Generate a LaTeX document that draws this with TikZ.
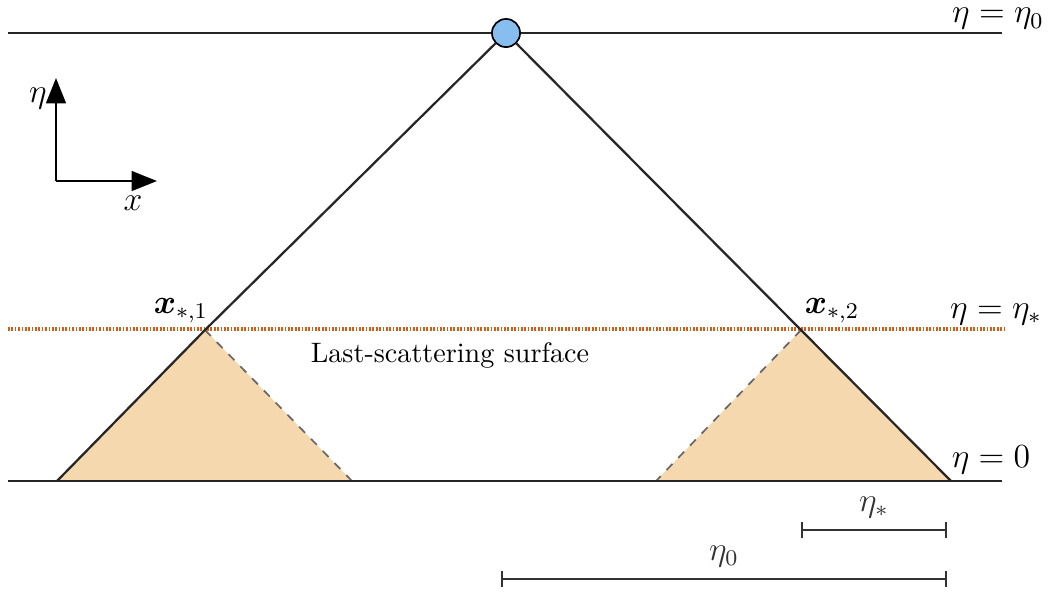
\documentclass[tikz,border=0pt]{standalone}
\usepackage{bm}
\usetikzlibrary{arrows.meta}

\definecolor{lsscol}{RGB}{205,95,25}
\definecolor{conefill}{RGB}{246,216,175}
\definecolor{obscol}{RGB}{135,190,240}

\begin{document}
\begin{tikzpicture}[
      x=0.0125cm, y=-0.0125cm,
      line/.style={line width=0.8pt, black!85},
      lss/.style={line width=1.7pt, lsscol, dash pattern=on 0.6pt off 0.6pt},
      cone/.style={fill=conefill},
      back/.style={gray!80!black, line width=0.6pt, dashed},
      lbl/.style={font=\large, inner sep=1pt},
      bar/.style={line width=0.6pt, black!80, {Bar[width=6pt]}-{Bar[width=6pt]}},
      axis/.style={line width=0.8pt, -{Triangle[length=9pt, width=7pt]}},
    ]
    \useasboundingbox (0,0) rectangle (1050,592);
    % points
    \coordinate (topL) at (8,33);
    \coordinate (topR) at (1002,33);
    \coordinate (botL) at (8,481);
    \coordinate (botR) at (1002,481);
    \coordinate (lssL) at (8,329);
    \coordinate (lssR) at (1005,329);
    \coordinate (xs1) at (205,330);
    \coordinate (xs2) at (801,330);
    \coordinate (p1) at (57,481);
    \coordinate (q1) at (352,481);
    \coordinate (p2) at (656,481);
    \coordinate (q2) at (951,481);
    % past cones of the two points
    \fill[cone] (xs1) -- (p1) -- (q1) -- cycle;
    \fill[cone] (xs2) -- (p2) -- (q2) -- cycle;
    \draw[back] (xs1) -- (q1);
    \draw[back] (xs2) -- (p2);
    % time slices
    \draw[line] (topL) -- (topR);
    \draw[line] (botL) -- (botR);
    \draw[lss] (lssL) -- (lssR);
    % observer light cone
    \node[circle, draw, fill=obscol, inner sep=0pt, minimum size=10pt, line width=0.6pt] (obs) at (506,33) {};
    \draw[line] (obs) -- (xs1) -- (p1);
    \draw[line] (obs) -- (xs2) -- (q2);
    % labels
    \node[lbl] (eta0) at (998,19) {$\eta=\eta_0$};
    \node[lbl] (etas) at (996,314) {$\eta=\eta_*$};
    \node[lbl] (etaz) at (991,460) {$\eta=0$};
    \node[lbl] (x1) at (181,311) {$\bm{x}_{*,1}$};
    \node[lbl] (x2) at (832,311) {$\bm{x}_{*,2}$};
    \node (lsslbl) at (450,355) {Last-scattering surface};
    % axes
    \coordinate (orig) at (56,181);
    \coordinate (up) at (56,78);
    \coordinate (right) at (157,181);
    \draw[axis] (orig) -- (up);
    \draw[axis] (orig) -- (right);
    \node[lbl] (etalbl) at (38,98) {$\eta$};
    \node[lbl] (xlbl) at (133,203) {$x$};
    % scale bars
    \coordinate (b1) at (801,530);
    \coordinate (b2) at (947,530);
    \coordinate (c1) at (501,579);
    \coordinate (c2) at (947,579);
    \draw[bar] (b1) -- node[lbl, above=3pt] {$\eta_*$} (b2);
    \draw[bar] (c1) -- node[lbl, above=3pt] {$\eta_0$} (c2);
  \end{tikzpicture}
\end{document}
